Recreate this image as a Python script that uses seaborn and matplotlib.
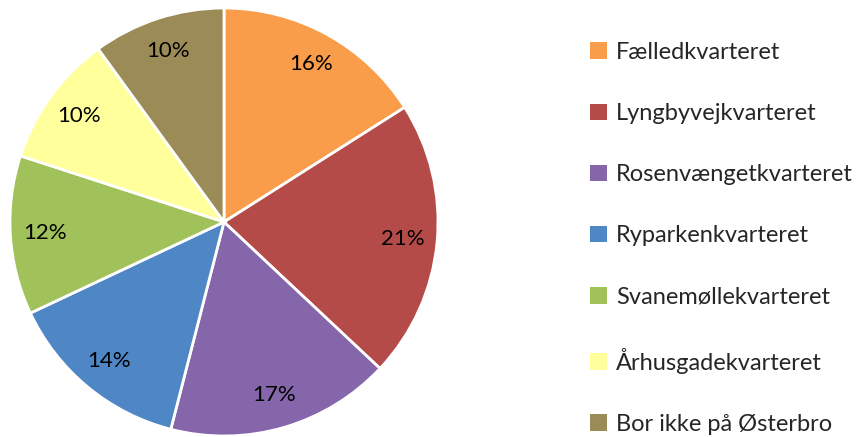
import matplotlib
matplotlib.use("Agg")
import matplotlib.pyplot as plt
from matplotlib.patches import Patch
import seaborn as sns

sns.set_theme(style="white")
plt.rcParams['font.family'] = ['Lato', 'DejaVu Sans']

# data
areas = ['Fælledkvarteret', 'Lyngbyvejkvarteret', 'Rosenvængetkvarteret',
         'Ryparkenkvarteret', 'Svanemøllekvarteret', 'Århusgadekvarteret',
         'Bor ikke på Østerbro']
shares = [16, 21, 17, 14, 12, 10, 10]
colors = ['#F99D4A', '#B44B48', '#8566AA', '#4F86C6', '#A1C25B', '#FFFF9B', '#9B8B57']

fig = plt.figure(figsize=(8.65, 4.37), dpi=100)
cx, cy, r = 224, 222, 214
ax = fig.add_axes([(cx - r) / 865, (437 - cy - r) / 437, 2 * r / 865, 2 * r / 437])

wedges, texts, autotexts = ax.pie(
    shares, colors=colors, startangle=90, counterclock=False,
    autopct='%1.0f%%', pctdistance=0.84,
    wedgeprops=dict(edgecolor='white', linewidth=2),
    textprops=dict(fontsize=16, color='black'))
ax.set_xlim(-1.0, 1.0)
ax.set_ylim(-1.0, 1.0)
ax.set_aspect('equal')

handles = [Patch(facecolor=c, edgecolor='none') for c in colors]
fig.legend(handles, areas, loc='upper left', bbox_to_anchor=(590 / 865, 1 - 42 / 437),
           frameon=False, fontsize=17, handlelength=0.7, handleheight=0.7,
           handletextpad=0.4, labelspacing=1.7, borderaxespad=0, borderpad=0)

fig.savefig('out.png', dpi=100)
